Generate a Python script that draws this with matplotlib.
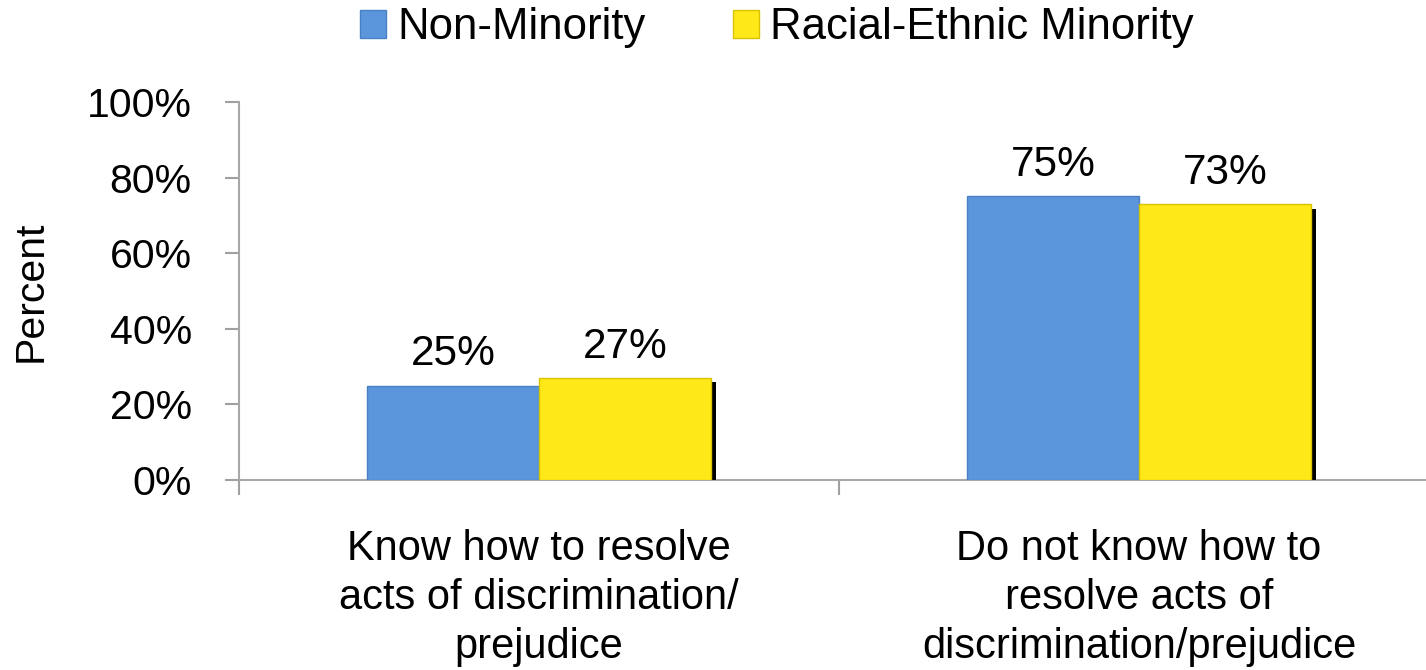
import matplotlib
matplotlib.use("Agg")
import matplotlib.pyplot as plt
import matplotlib.patheffects as pe
import numpy as np

categories = ["Know how to resolve\nacts of discrimination/\nprejudice",
              "Do not know how to\nresolve acts of\ndiscrimination/prejudice"]
series_names = ["Non-Minority", "Racial-Ethnic Minority"]
non_minority = [25, 75]
minority = [27, 73]
yticks = [0, 20, 40, 60, 80, 100]
ytick_labels = ["0%", "20%", "40%", "60%", "80%", "100%"]

plt.rcParams['font.family'] = ['Liberation Sans', 'DejaVu Sans']

W, H = 1426, 670
fig = plt.figure(figsize=(W / 100, H / 100), dpi=100)
ax = fig.add_axes([239 / W, 190 / H, 1 - 239 / W, 378 / H])

x = np.arange(len(categories))
bw = 0.287
blue = "#5B96DD"
yellow = "#FFE818"

b1 = ax.bar(x - bw / 2, non_minority, bw, color=blue, edgecolor="#4A80C2",
            linewidth=1.0, label=series_names[0], zorder=3)
b2 = ax.bar(x + bw / 2, minority, bw, color=yellow, edgecolor="#D9C200",
            linewidth=1.0, label=series_names[1], zorder=3,
            path_effects=[pe.SimplePatchShadow(offset=(3.2, -3.2), shadow_rgbFace='black', alpha=1.0),
                          pe.Normal()])

for bars, vals in ((b1, non_minority), (b2, minority)):
    for r, v in zip(bars, vals):
        ax.annotate(f"{v}%", (r.get_x() + r.get_width() / 2, v),
                    xytext=(0, 14.5), textcoords="offset points",
                    ha="center", va="baseline", fontsize=30.5, color="black")

ax.set_yticks(yticks)
ax.set_yticklabels(ytick_labels, fontsize=29.5)
ax.set_xticks(x)
ax.set_xticklabels(categories, fontsize=30, linespacing=1.3)
ax.tick_params(axis="x", length=0, pad=35)
ax.set_xticks([-0.5, 0.5], minor=True)
ax.tick_params(axis="x", which="minor", length=11, color="#A0A0A0", width=1.5, direction="out")
ax.tick_params(axis="y", length=10, color="#A0A0A0", width=1.5, pad=24)
ax.set_ylim(0, 100)
ax.set_xlim(-0.5, -0.5 + (W - 239) / 600)

for s in ("top", "right"):
    ax.spines[s].set_visible(False)
for s in ("left", "bottom"):
    ax.spines[s].set_color("#A8A8A8")
    ax.spines[s].set_linewidth(1.5)

ax.set_ylabel("Percent", fontsize=29.5)
ax.yaxis.set_label_coords((50 - 239) / (W - 239), 0.5)

leg = fig.legend(handles=[b1, b2], labels=series_names, loc="center",
                 bbox_to_anchor=(777 / W, 1 - 28 / H), ncol=2, frameon=False,
                 fontsize=31.5, handlelength=0.6, handleheight=0.6,
                 handletextpad=0.25, columnspacing=2.0)
for h in leg.legend_handles:
    h.set_path_effects([])

fig.savefig("out.png", dpi=100)
